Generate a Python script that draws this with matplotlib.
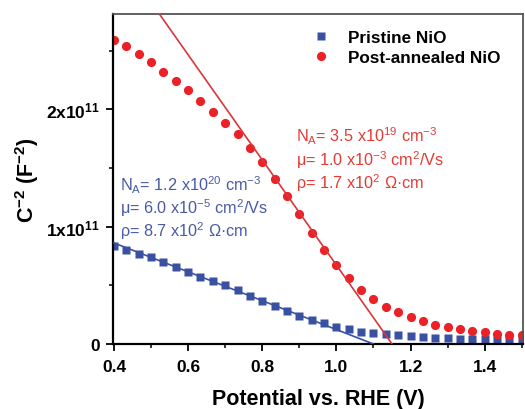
import numpy as np
import matplotlib
matplotlib.use("Agg")
import matplotlib.pyplot as plt
from matplotlib.ticker import MultipleLocator

plt.rcParams['font.family'] = ['Liberation Sans', 'DejaVu Sans']
plt.rcParams['mathtext.default'] = 'regular'

# potential (V vs RHE), 0.4 -> 1.5 in 1/30 V steps
potential = np.round(np.linspace(0.4, 1.5, 34), 4)

# C^-2 in units of 1e11 F^-2
pristine = [0.837, 0.803, 0.771, 0.743, 0.695, 0.652, 0.610, 0.573, 0.539, 0.502,
            0.462, 0.406, 0.369, 0.321, 0.281, 0.241, 0.207, 0.179, 0.147, 0.125,
            0.105, 0.094, 0.082, 0.074, 0.068, 0.060, 0.054, 0.048, 0.045, 0.043,
            0.040, 0.037, 0.034, 0.034]
annealed = [2.59, 2.54, 2.47, 2.40, 2.32, 2.24, 2.16, 2.07, 1.98, 1.88,
            1.79, 1.67, 1.55, 1.41, 1.26, 1.11, 0.95, 0.80, 0.675, 0.559,
            0.462, 0.383, 0.318, 0.270, 0.227, 0.196, 0.164, 0.145, 0.128, 0.113,
            0.102, 0.088, 0.079, 0.077]

# linear Mott-Schottky fits: x-intercept (V) and slope (1e11 F^-2 / V)
pristine_fit = (1.10, -1.23)
annealed_fit = (1.15, -4.48)

blue = '#3a51a2'
red = '#ec2027'

fig = plt.figure(figsize=(5.25, 4.1), dpi=100)
ax = fig.add_axes([0.215, 0.1585, 0.781, 0.8045])

ax.plot(potential, np.array(pristine) * 1e11, 's', color=blue, ms=5.4, mec='none',
        label='Pristine NiO', zorder=2)
ax.plot(potential, np.array(annealed) * 1e11, 'o', color=red, ms=6.6, mec='none',
        label='Post-annealed NiO', zorder=2)

xb = np.array([0.4, pristine_fit[0]])
ax.plot(xb, pristine_fit[1] * (xb - pristine_fit[0]) * 1e11, '-', color=blue, lw=1.2, zorder=3)
xr = np.array([0.45, annealed_fit[0]])
ax.plot(xr, annealed_fit[1] * (xr - annealed_fit[0]) * 1e11, '-', color='#d9363a', lw=1.2, zorder=3)

ax.set_xlim(0.397, 1.503)
ax.set_ylim(0, 2.81e11)
ax.xaxis.set_major_locator(MultipleLocator(0.2))
ax.xaxis.set_minor_locator(MultipleLocator(0.1))
ax.set_yticks([0, 1e11, 2e11])
ax.set_yticklabels(['0', '1x10$^{11}$', '2x10$^{11}$'])
ax.yaxis.set_minor_locator(MultipleLocator(0.5e11))
ax.set_xticklabels([f'{v:.1f}' for v in ax.get_xticks()])

ax.tick_params(which='major', direction='out', length=5, width=1.3, labelsize=12.5, pad=4)
ax.tick_params(axis='x', which='major', pad=6)
ax.tick_params(which='minor', direction='out', length=3, width=1.1)
for lab in ax.get_xticklabels() + ax.get_yticklabels():
    lab.set_fontweight('bold')

for side in ['left', 'bottom']:
    ax.spines[side].set_linewidth(1.6)
for side in ['top', 'right']:
    ax.spines[side].set_linewidth(1.3)
    ax.spines[side].set_color('#555555')

ax.set_xlabel('Potential vs. RHE (V)', fontsize=15.5, fontweight='bold', labelpad=10)
ax.set_ylabel('C$^{-2}$ (F$^{-2}$)', fontsize=15.5, fontweight='bold', labelpad=4)

ax.legend(loc='upper left', bbox_to_anchor=(0.467, 0.978), frameon=False, borderpad=0,
          handlelength=1.0, handletextpad=1.05, labelspacing=0.28,
          prop={'size': 12.3, 'weight': 'bold'})

ax.text(0.017, 0.518, 'N$_A$= 1.2 x10$^{20}$ cm$^{-3}$\n'
        '\u03bc= 6.0 x10$^{-5}$ cm$^2$/Vs\n'
        '\u03c1= 8.7 x10$^2$ \u03a9\u00b7cm',
        transform=ax.transAxes, color='#4a5aa6', fontsize=11.7, va='top',
        linespacing=1.1)
ax.text(0.447, 0.664, 'N$_A$= 3.5 x10$^{19}$ cm$^{-3}$\n'
        '\u03bc= 1.0 x10$^{-3}$ cm$^2$/Vs\n'
        '\u03c1= 1.7 x10$^2$ \u03a9\u00b7cm',
        transform=ax.transAxes, color='#e23a35', fontsize=11.7, va='top',
        linespacing=1.1)

fig.savefig('out.png', dpi=100)
